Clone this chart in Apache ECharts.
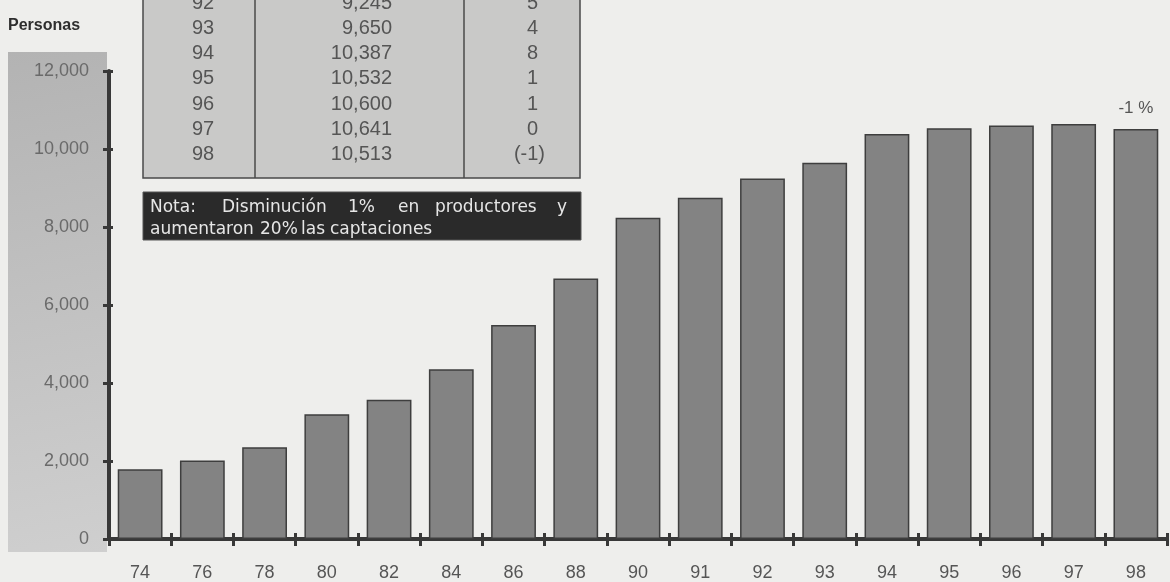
<!DOCTYPE html>
<html>
<head>
<meta charset="utf-8">
<script src="https://cdn.jsdelivr.net/npm/echarts@6/dist/echarts.min.js"></script>
<style>
html,body{margin:0;padding:0;background:#eeeeec;}
#chart{width:1170px;height:582px;}
</style>
</head>
<body>
<div id="chart"></div>
<script>
// ---- data ----
var years = ['74','76','78','80','82','84','86','88','90','91','92','93','94','95','96','97','98'];
var personas = [1790, 2010, 2350, 3200, 3570, 4350, 5490, 6680, 8240, 8750, 9245, 9650, 10387, 10532, 10600, 10641, 10513];
var tableYears = ['92','93','94','95','96','97','98'];
var tableValues = ['9,245','9,650','10,387','10,532','10,600','10,641','10,513'];
var tableGrowth = ['5','4','8','1','1','0','(-1)'];
var yTicks = [0, 2000, 4000, 6000, 8000, 10000, 12000];
var lastLabel = '-1 %';
var yTitle = 'Personas';
var noteLine1 = ['Nota:', 'Disminución', '1%', 'en', 'productores', 'y'];
var noteLine2 = ['aumentaron', '20%', 'las', 'captaciones'];

// ---- layout (word positions in the note box, justified like the original) ----
var noteX1 = [150, 222, 348, 398, 435, 557];
var noteX2 = [150, 260, 301, 330];

var NUMFONT = '"Liberation Sans", Arial, sans-serif';
var TXTFONT = '"DejaVu Sans", sans-serif';

var chart = echarts.init(document.getElementById('chart'));

var barData = personas.map(function (v, i) {
  if (i === personas.length - 1) {
    return { value: v, label: { show: true, position: 'top', distance: 12, formatter: lastLabel,
      color: '#555', fontSize: 17, fontFamily: NUMFONT } };
  }
  return v;
});

var graphics = [];
graphics.push({
  type: 'rect', z: -10, silent: true,
  shape: { x: 8, y: 52, width: 99, height: 500 },
  style: { fill: new echarts.graphic.LinearGradient(0, 0, 1, 1, [
    { offset: 0, color: '#b3b3b3' }, { offset: 1, color: '#cfcfcf' }]) }
});
graphics.push({
  type: 'text', left: 8, top: 18,
  style: { text: yTitle, fontSize: 16, fontWeight: 'bold', fill: '#2e2e2e', fontFamily: NUMFONT }
});
// table
graphics.push({
  type: 'rect', z: 10,
  shape: { x: 143, y: -20, width: 437, height: 198 },
  style: { fill: '#c9c9c8', stroke: '#4a4a4a', lineWidth: 1.5 }
});
graphics.push({ type: 'line', z: 11, shape: { x1: 255, y1: -20, x2: 255, y2: 178 }, style: { stroke: '#4a4a4a', lineWidth: 1.5 } });
graphics.push({ type: 'line', z: 11, shape: { x1: 464, y1: -20, x2: 464, y2: 178 }, style: { stroke: '#4a4a4a', lineWidth: 1.5 } });
tableYears.forEach(function (y, i) {
  var cy = 3 + i * 25.3;
  graphics.push({ type: 'text', z: 12, x: 203, y: cy,
    style: { text: y, fontSize: 20, fill: '#555', fontFamily: NUMFONT, textAlign: 'center', textVerticalAlign: 'middle' } });
  graphics.push({ type: 'text', z: 12, x: 392, y: cy,
    style: { text: tableValues[i], fontSize: 20, fill: '#555', fontFamily: NUMFONT, textAlign: 'right', textVerticalAlign: 'middle' } });
  var g = tableGrowth[i];
  graphics.push({ type: 'text', z: 12, x: g.charAt(0) === '(' ? 545 : 538, y: cy,
    style: { text: g, fontSize: 20, fill: '#555', fontFamily: NUMFONT, textAlign: 'right', textVerticalAlign: 'middle' } });
});
// note box
graphics.push({
  type: 'rect', z: 10,
  shape: { x: 143, y: 192, width: 438, height: 48 },
  style: { fill: '#2a2a2a', stroke: '#555', lineWidth: 1 }
});
var noteStyle = { fontSize: 17, fill: '#e6e6e6', fontFamily: TXTFONT, textVerticalAlign: 'middle', textAlign: 'left' };
noteLine1.forEach(function (w, i) {
  graphics.push({ type: 'text', z: 12, x: noteX1[i], y: 208, style: Object.assign({}, noteStyle, { text: w }) });
});
noteLine2.forEach(function (w, i) {
  graphics.push({ type: 'text', z: 12, x: noteX2[i], y: 230, style: Object.assign({}, noteStyle, { text: w }) });
});

var axisColor = '#383838';

chart.setOption({
  backgroundColor: '#eeeeec',
  animation: false,
  grid: { left: 109, right: 3, top: 71, bottom: 43, containLabel: false, outerBoundsMode: 'none' },
  xAxis: [{
    type: 'category', data: years, position: 'bottom',
    axisLine: { show: true, lineStyle: { color: axisColor, width: 4 } },
    axisTick: { show: true, inside: false, length: 7, lineStyle: { color: axisColor, width: 3 } },
    axisLabel: { color: '#555', fontSize: 18, fontFamily: NUMFONT, margin: 25 },
    splitLine: { show: false }
  }, {
    type: 'category', data: years, position: 'bottom', offset: 0,
    axisLine: { show: false },
    axisTick: { show: true, inside: true, length: 6, lineStyle: { color: axisColor, width: 3 } },
    axisLabel: { show: false },
    splitLine: { show: false }
  }],
  yAxis: [{
    type: 'value', min: yTicks[0], max: yTicks[yTicks.length - 1], interval: yTicks[1] - yTicks[0],
    axisLine: { show: true, lineStyle: { color: axisColor, width: 4 } },
    axisTick: { show: true, inside: false, length: 6, lineStyle: { color: axisColor, width: 3 } },
    axisLabel: { color: '#6a6a6a', fontSize: 18, fontFamily: NUMFONT, margin: 20,
      formatter: function (v) { return v.toLocaleString('en-US'); } },
    splitLine: { show: false }
  }, {
    type: 'value', position: 'left', offset: 0, min: yTicks[0], max: yTicks[yTicks.length - 1], interval: yTicks[1] - yTicks[0],
    axisLine: { show: false },
    axisTick: { show: true, inside: true, length: 4, lineStyle: { color: axisColor, width: 3 } },
    axisLabel: { show: false },
    splitLine: { show: false }
  }],
  series: [{
    type: 'bar', data: barData, xAxisIndex: 0, yAxisIndex: 0,
    barWidth: '72%',
    itemStyle: { color: '#838383', borderColor: '#3e3e3e', borderWidth: 1.5 },
    z: 2
  }],
  graphic: graphics
});
</script>
</body>
</html>
